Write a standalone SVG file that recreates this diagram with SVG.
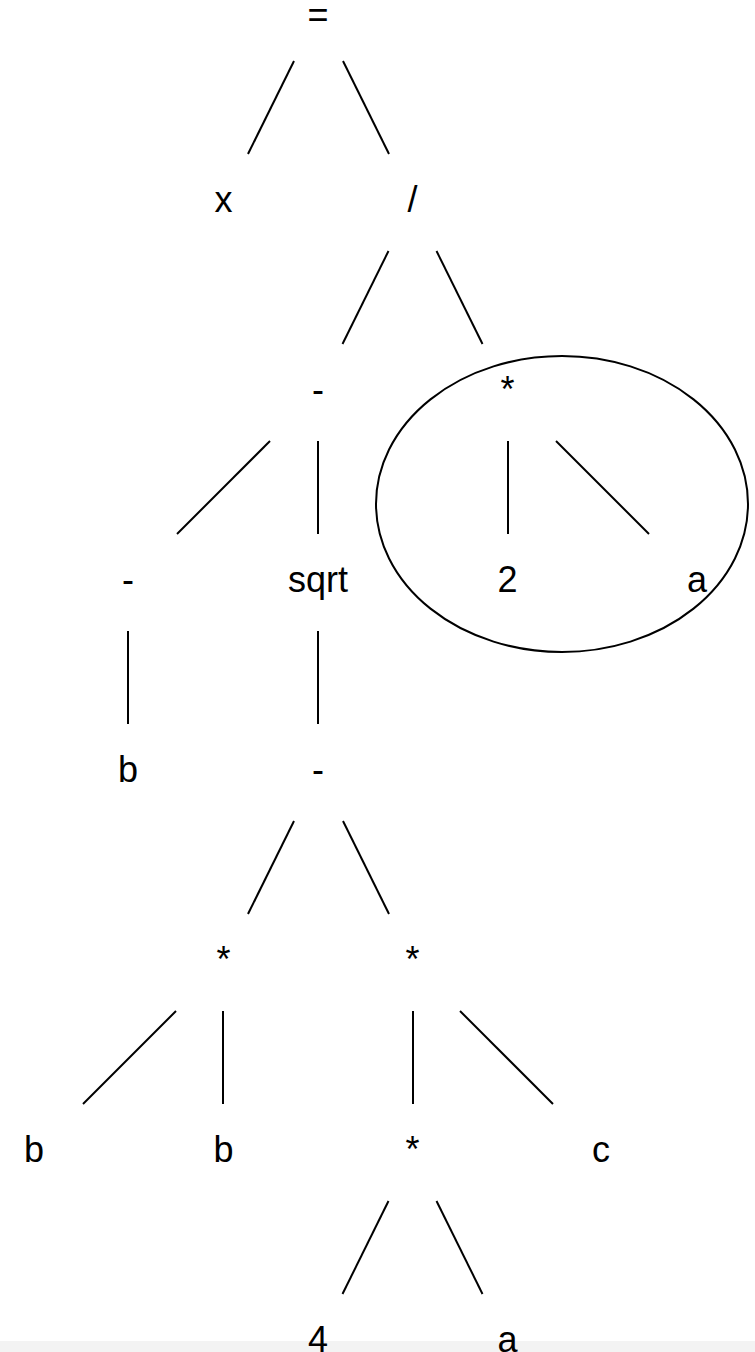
<svg xmlns="http://www.w3.org/2000/svg" width="755" height="1352" viewBox="0 0 755 1352">
  <style>
    .lbl { font-family: "Liberation Sans", Arial, Helvetica, sans-serif; font-size: 36px; fill: #000; text-anchor: middle; }
    .edge { stroke: #000; stroke-width: 2; fill: none; stroke-linecap: butt; }
    .ring { stroke: #000; stroke-width: 2; fill: none; }
  </style>
  <rect x="0" y="0" width="755" height="1352" fill="#ffffff"/>
  <rect x="0" y="1341" width="755" height="11" fill="#f3f3f3"/>

  <!-- subtree highlight for the denominator 2*a -->
  <ellipse id="highlight" class="ring" cx="562" cy="504" rx="186" ry="148"/>

  <g id="connectors">
    <line class="edge" x1="294" y1="61" x2="248" y2="154"/>
    <line class="edge" x1="343" y1="61" x2="389" y2="154"/>
    <line class="edge" x1="388.5" y1="251" x2="342.5" y2="344"/>
    <line class="edge" x1="436.5" y1="251" x2="482.5" y2="344"/>
    <line class="edge" x1="270" y1="441" x2="177" y2="534"/>
    <line class="edge" x1="318" y1="441" x2="318" y2="534"/>
    <line class="edge" x1="508" y1="441" x2="508" y2="534"/>
    <line class="edge" x1="556" y1="441" x2="649" y2="534"/>
    <line class="edge" x1="128" y1="631" x2="128" y2="724"/>
    <line class="edge" x1="318" y1="631" x2="318" y2="724"/>
    <line class="edge" x1="294" y1="821" x2="248" y2="914"/>
    <line class="edge" x1="343" y1="821" x2="389" y2="914"/>
    <line class="edge" x1="176" y1="1011" x2="83" y2="1104"/>
    <line class="edge" x1="223" y1="1011" x2="223" y2="1104"/>
    <line class="edge" x1="413" y1="1011" x2="413" y2="1104"/>
    <line class="edge" x1="460" y1="1011" x2="553" y2="1104"/>
    <line class="edge" x1="388.5" y1="1201" x2="342.5" y2="1294"/>
    <line class="edge" x1="436.5" y1="1201" x2="482.5" y2="1294"/>
  </g>

  <g id="n-eq"><text class="lbl" x="318" y="27">=</text></g>
  <g id="n-x"><text class="lbl" x="223.5" y="212">x</text></g>
  <g id="n-div"><text class="lbl" x="412.5" y="212">/</text></g>
  <g id="n-sub1"><text class="lbl" x="318" y="402">-</text></g>
  <g id="n-mul1"><text class="lbl" x="507.5" y="402">*</text></g>
  <g id="n-neg"><text class="lbl" x="128" y="592">-</text></g>
  <g id="n-sqrt"><text class="lbl" x="318" y="592">sqrt</text></g>
  <g id="n-two"><text class="lbl" x="507.5" y="592">2</text></g>
  <g id="n-a1"><text class="lbl" x="697" y="592">a</text></g>
  <g id="n-b1"><text class="lbl" x="128" y="782">b</text></g>
  <g id="n-sub2"><text class="lbl" x="318" y="782">-</text></g>
  <g id="n-mul2"><text class="lbl" x="223.5" y="972">*</text></g>
  <g id="n-mul3"><text class="lbl" x="412.5" y="972">*</text></g>
  <g id="n-b2"><text class="lbl" x="34" y="1162">b</text></g>
  <g id="n-b3"><text class="lbl" x="223.5" y="1162">b</text></g>
  <g id="n-mul4"><text class="lbl" x="412.5" y="1162">*</text></g>
  <g id="n-c"><text class="lbl" x="601" y="1162">c</text></g>
  <g id="n-four"><text class="lbl" x="318" y="1352">4</text></g>
  <g id="n-a2"><text class="lbl" x="507.5" y="1352">a</text></g>
</svg>
